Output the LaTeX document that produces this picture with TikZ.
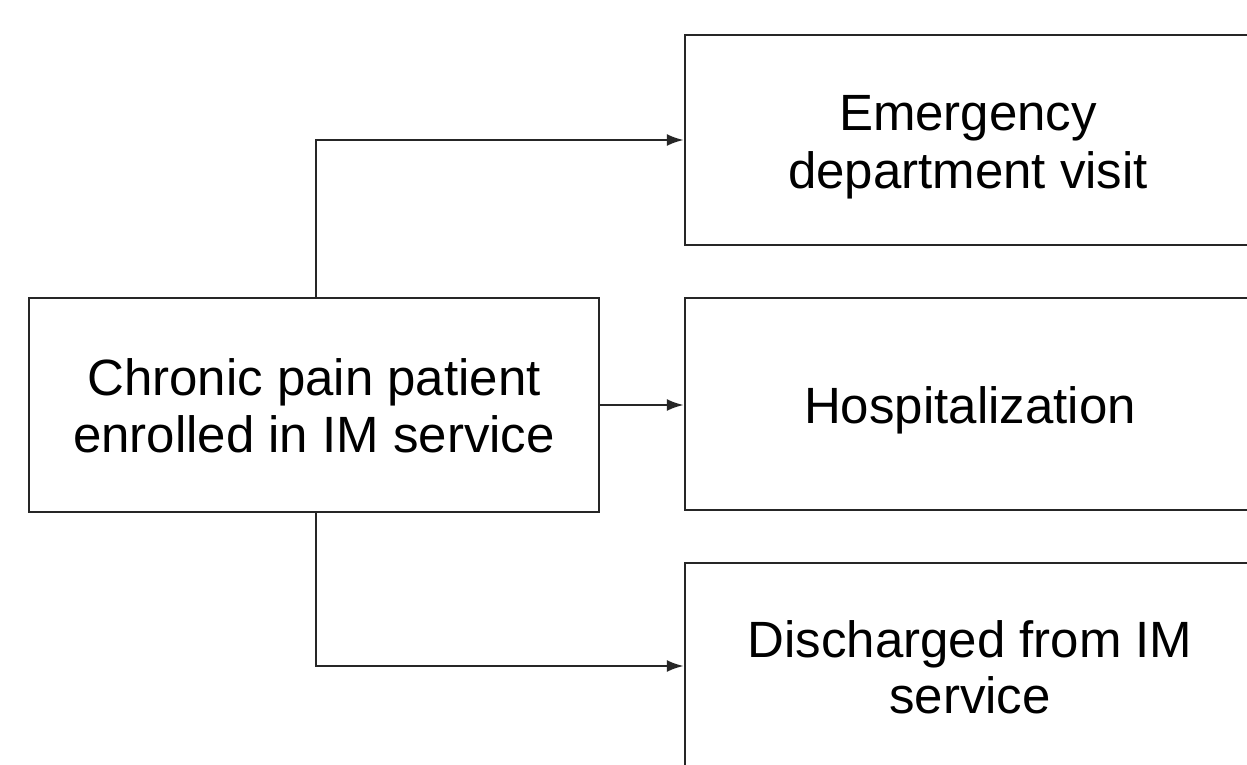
\documentclass[tikz,border=0pt]{standalone}
\usepackage{fontspec}
\setmainfont{Liberation Sans}
\usetikzlibrary{arrows.meta}
\begin{document}
\begin{tikzpicture}[x=1pt,y=-1pt,
  box/.style={draw=black!85, line width=2.4pt, fill=white, inner sep=0pt},
  lbl/.style={anchor=base, inner sep=0pt, font=\fontsize{51}{57}\selectfont},
  conn/.style={draw=black!85, line width=2.4pt, -{Latex[length=17pt,width=12pt]}}]
\useasboundingbox[fill=white] (0,0) rectangle (1247,764);
% boxes
\node[box, minimum width=570pt, minimum height=214pt] (src) at (314,405) {};
\node[box, minimum width=566pt, minimum height=210pt] (ed) at (968,140) {};
\node[box, minimum width=566pt, minimum height=212pt] (hosp) at (968,404) {};
\node[box, minimum width=566pt, minimum height=212pt] (dis) at (968,669) {};
% texts
\node[lbl] (src1) at (314,395) {Chronic pain patient};
\node[lbl] (src2) at (314,452) {enrolled in IM service};
\node[lbl] (ed1) at (968,130) {Emergency};
\node[lbl] (ed2) at (968,188) {department visit};
\node[lbl] (hosp1) at (970,423) {Hospitalization};
\node[lbl] (dis1) at (970,657) {Discharged from IM};
\node[lbl] (dis2) at (970,713) {service};
% connectors
\coordinate (t1) at (316,140);
\coordinate (b1) at (316,666);
\draw[conn] (src.north -| t1) |- (ed.west |- t1);
\draw[conn] (src.east) -- (hosp.west |- src.east);
\draw[conn] (src.south -| b1) |- (dis.west |- b1);
\end{tikzpicture}
\end{document}
